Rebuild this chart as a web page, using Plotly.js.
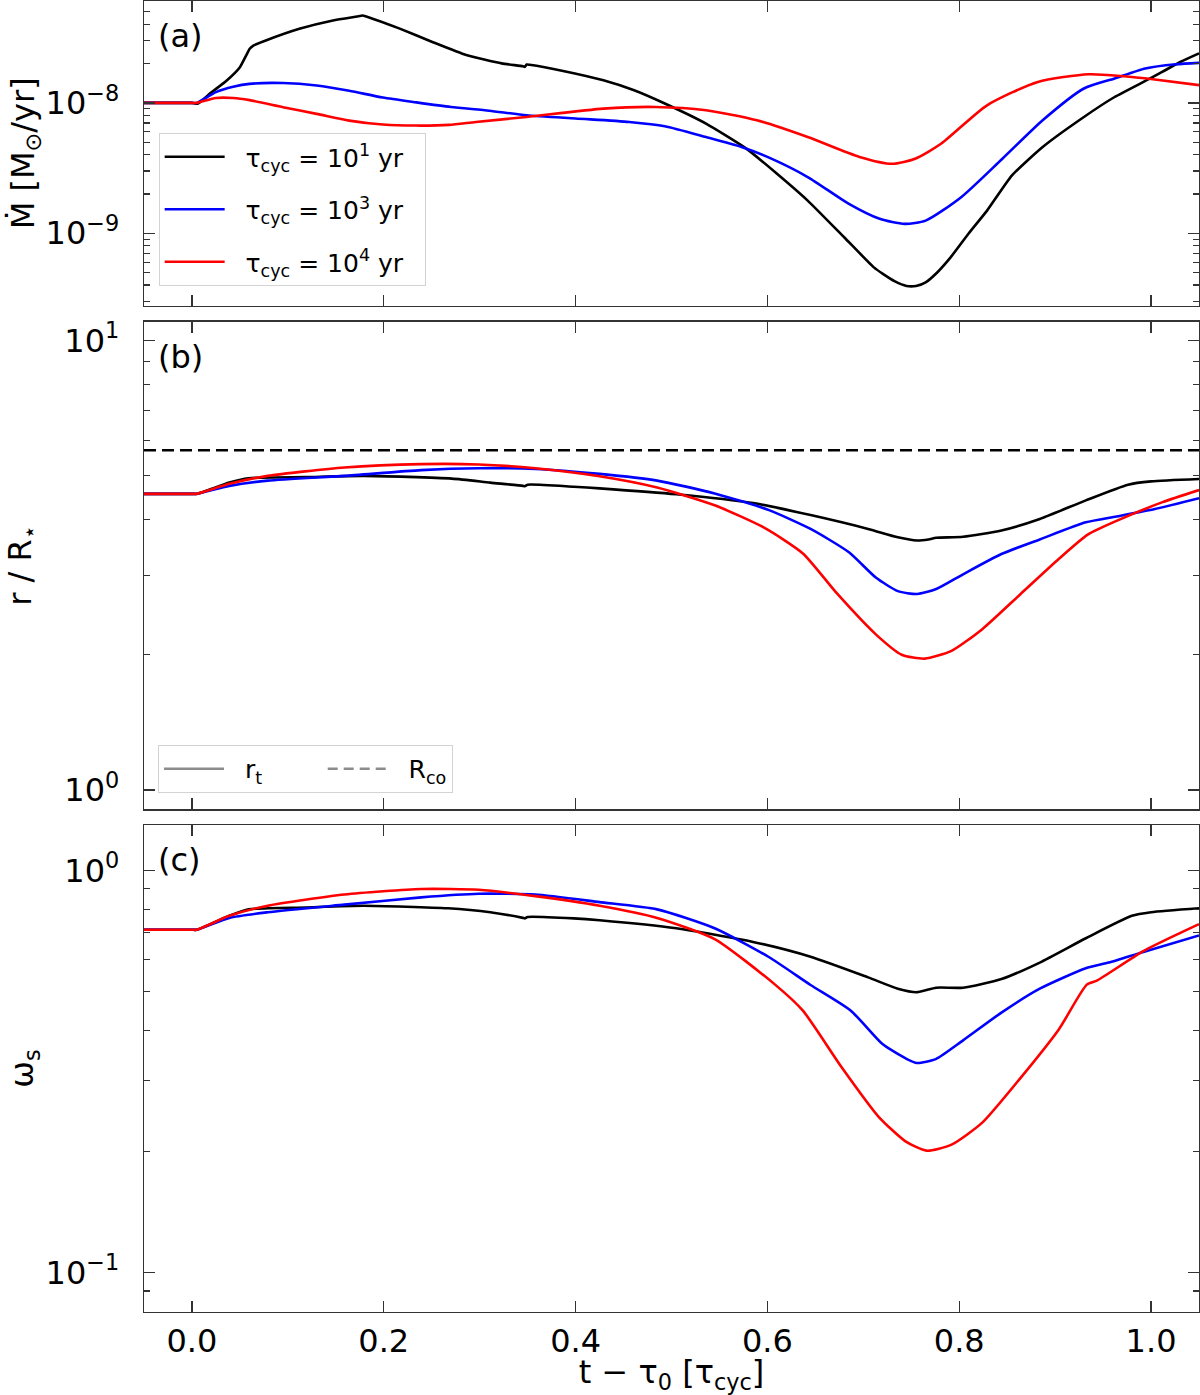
<!DOCTYPE html>
<html>
<head>
<meta charset="utf-8">
<script src="https://cdn.plot.ly/plotly-3.0.1.min.js"></script>
<style>
  html, body { margin: 0; padding: 0; background: #fff; }
  #chart { width: 1200px; height: 1395px; }
</style>
</head>
<body>
<div id="chart"></div>
<script>
// ---- Panel (a): accretion rate [M_sun/yr] ----
const tA_k1 = [-0.05, -0.02, 0.0, 0.006, 0.02, 0.036, 0.05, 0.057, 0.06, 0.064, 0.077, 0.112, 0.147, 0.172, 0.178, 0.184, 0.216, 0.25, 0.286, 0.323, 0.345, 0.347, 0.349, 0.352, 0.387, 0.429, 0.461, 0.493, 0.536, 0.578, 0.61, 0.642, 0.68, 0.711, 0.72, 0.733, 0.745, 0.755, 0.765, 0.777, 0.791, 0.81, 0.829, 0.855, 0.887, 0.93, 0.962, 0.999, 1.031, 1.05];
const mdot_k1 = [1.0e-8, 1.0e-8, 1.0e-8, 0.985e-8, 1.2e-8, 1.48e-8, 1.88e-8, 2.35e-8, 2.59e-8, 2.75e-8, 3.01e-8, 3.70e-8, 4.29e-8, 4.6e-8, 4.68e-8, 4.55e-8, 3.73e-8, 2.95e-8, 2.33e-8, 2.01e-8, 1.91e-8, 1.89e-8, 1.97e-8, 1.96e-8, 1.76e-8, 1.49e-8, 1.25e-8, 0.989e-8, 6.93e-9, 4.46e-9, 2.86e-9, 1.78e-9, 9.31e-10, 5.47e-10, 4.9e-10, 4.27e-10, 3.94e-10, 3.94e-10, 4.2e-10, 5.0e-10, 6.53e-10, 1.0e-9, 1.49e-9, 2.78e-9, 4.59e-9, 7.80e-9, 1.11e-8, 1.54e-8, 2.07e-8, 2.40e-8];

const tA_k3 = [-0.05, -0.02, 0.0, 0.005, 0.025, 0.043, 0.06, 0.095, 0.13, 0.164, 0.199, 0.234, 0.27, 0.31, 0.349, 0.4, 0.456, 0.493, 0.536, 0.573, 0.6, 0.642, 0.685, 0.717, 0.743, 0.765, 0.802, 0.845, 0.887, 0.93, 0.962, 0.994, 1.026, 1.05];
const mdot_k3 = [1.0e-8, 1.0e-8, 1.0e-8, 1.0e-8, 1.21e-8, 1.33e-8, 1.40e-8, 1.42e-8, 1.36e-8, 1.24e-8, 1.10e-8, 1.01e-8, 9.31e-9, 8.71e-9, 8.04e-9, 7.59e-9, 7.14e-9, 6.62e-9, 5.47e-9, 4.59e-9, 3.85e-9, 2.70e-9, 1.68e-9, 1.29e-9, 1.18e-9, 1.25e-9, 1.89e-9, 3.73e-9, 7.36e-9, 1.29e-8, 1.54e-8, 1.84e-8, 1.98e-8, 2.03e-8];

const tA_k4 = [-0.05, -0.02, 0.0, 0.005, 0.025, 0.043, 0.06, 0.095, 0.13, 0.164, 0.199, 0.234, 0.268, 0.296, 0.349, 0.429, 0.483, 0.536, 0.589, 0.642, 0.696, 0.73, 0.754, 0.781, 0.829, 0.882, 0.935, 0.972, 1.004, 1.05];
const mdot_k4 = [1.0e-8, 1.0e-8, 1.0e-8, 1.0e-8, 1.09e-8, 1.09e-8, 1.05e-8, 9.27e-9, 8.24e-9, 7.31e-9, 6.82e-9, 6.70e-9, 6.78e-9, 7.14e-9, 7.80e-9, 9.04e-9, 9.31e-9, 8.79e-9, 7.36e-9, 5.47e-9, 3.85e-9, 3.41e-9, 3.73e-9, 4.86e-9, 9.59e-9, 1.45e-8, 1.66e-8, 1.60e-8, 1.51e-8, 1.37e-8];

// ---- Panel (b): truncation radius r_t / R_star, corotation radius ----
const tB_k1 = [-0.05, -0.02, 0.0, 0.005, 0.039, 0.059, 0.119, 0.179, 0.271, 0.311, 0.345, 0.347, 0.35, 0.398, 0.425, 0.505, 0.585, 0.645, 0.705, 0.736, 0.756, 0.768, 0.776, 0.804, 0.844, 0.884, 0.932, 0.976, 1.0, 1.05];
const r_k1 = [4.56, 4.56, 4.56, 4.56, 4.83, 4.94, 4.97, 5.00, 4.93, 4.83, 4.75, 4.74, 4.78, 4.73, 4.69, 4.55, 4.35, 4.09, 3.81, 3.65, 3.59, 3.61, 3.64, 3.66, 3.78, 4.01, 4.41, 4.78, 4.86, 4.92];

const tB_k3 = [-0.05, -0.02, 0.0, 0.005, 0.039, 0.079, 0.159, 0.239, 0.299, 0.358, 0.425, 0.485, 0.545, 0.601, 0.645, 0.685, 0.713, 0.736, 0.756, 0.776, 0.804, 0.844, 0.884, 0.932, 0.964, 1.004, 1.05];
const r_k3 = [4.56, 4.56, 4.56, 4.56, 4.75, 4.88, 5.00, 5.15, 5.20, 5.18, 5.05, 4.88, 4.57, 4.20, 3.81, 3.38, 2.97, 2.77, 2.73, 2.80, 3.02, 3.35, 3.61, 3.94, 4.06, 4.22, 4.46];

const tB_k4 = [-0.05, -0.02, 0.0, 0.005, 0.039, 0.079, 0.159, 0.239, 0.299, 0.358, 0.425, 0.485, 0.545, 0.597, 0.637, 0.673, 0.713, 0.74, 0.764, 0.792, 0.824, 0.864, 0.904, 0.934, 0.964, 1.012, 1.05];
const r_k4 = [4.56, 4.56, 4.56, 4.56, 4.80, 5.00, 5.22, 5.31, 5.30, 5.20, 4.99, 4.71, 4.30, 3.83, 3.36, 2.73, 2.22, 2.00, 1.96, 2.04, 2.28, 2.73, 3.27, 3.70, 3.97, 4.37, 4.65];

const tCo = [-0.05, 1.05];
const rCo = [5.7, 5.7];

// ---- Panel (c): fastness parameter omega_s ----
const tC_k1 = [-0.05, -0.02, 0.0, 0.005, 0.039, 0.059, 0.119, 0.179, 0.267, 0.311, 0.345, 0.347, 0.35, 0.398, 0.425, 0.505, 0.585, 0.645, 0.705, 0.736, 0.756, 0.776, 0.804, 0.844, 0.884, 0.932, 0.98, 1.0, 1.05];
const w_k1 = [0.712, 0.712, 0.712, 0.712, 0.771, 0.800, 0.809, 0.817, 0.805, 0.787, 0.762, 0.760, 0.766, 0.760, 0.752, 0.718, 0.664, 0.610, 0.542, 0.508, 0.498, 0.511, 0.511, 0.537, 0.590, 0.678, 0.771, 0.787, 0.805];

const tC_k3 = [-0.05, -0.02, 0.0, 0.005, 0.039, 0.079, 0.159, 0.239, 0.299, 0.358, 0.425, 0.485, 0.545, 0.601, 0.645, 0.687, 0.72, 0.745, 0.756, 0.776, 0.804, 0.844, 0.884, 0.932, 0.956, 0.992, 1.05];
const w_k3 = [0.712, 0.712, 0.712, 0.712, 0.762, 0.787, 0.822, 0.857, 0.875, 0.871, 0.834, 0.800, 0.718, 0.610, 0.519, 0.448, 0.370, 0.340, 0.332, 0.340, 0.378, 0.443, 0.508, 0.571, 0.590, 0.627, 0.689];

const tC_k4 = [-0.05, -0.02, 0.0, 0.005, 0.039, 0.079, 0.159, 0.239, 0.299, 0.358, 0.425, 0.485, 0.545, 0.608, 0.637, 0.677, 0.716, 0.744, 0.766, 0.792, 0.824, 0.864, 0.904, 0.933, 0.944, 0.992, 1.05];
const w_k4 = [0.712, 0.712, 0.712, 0.712, 0.771, 0.817, 0.871, 0.899, 0.895, 0.863, 0.817, 0.762, 0.675, 0.520, 0.448, 0.325, 0.244, 0.212, 0.201, 0.208, 0.236, 0.305, 0.403, 0.520, 0.533, 0.630, 0.735];

// ---- Labels and ticks ----
const PAD = '\u00a0\u00a0';
const seriesNames = ['τ<sub>cyc</sub> = 10<sup>1</sup> yr', 'τ<sub>cyc</sub> = 10<sup>3</sup> yr', 'τ<sub>cyc</sub> = 10<sup>4</sup> yr'];
const seriesColors = ['#000000', '#0000ff', '#ff0000'];
const styleNames = ['r<sub>t</sub>', 'R<sub>co</sub>'];
const xTickVals = [0, 0.2, 0.4, 0.6, 0.8, 1.0];
const xTickText = ['0.0', '0.2', '0.4', '0.6', '0.8', '1.0'];
const yA_TickVals = [1e-9, 1e-8];
const yA_TickText = ['10<sup>−9</sup>', '10<sup>−8</sup>'];
const yB_TickVals = [1, 10];
const yB_TickText = ['10<sup>0</sup>', '10<sup>1</sup>'];
const yC_TickVals = [0.1, 1];
const yC_TickText = ['10<sup>−1</sup>', '10<sup>0</sup>'];
const mantissas = [2, 3, 4, 5, 6, 7, 8, 9];

function minorTicks(decades, lo, hi) {
  const out = [];
  decades.forEach(d => mantissas.forEach(m => {
    const v = m * Math.pow(10, d);
    if (v > lo && v < hi) out.push(v);
  }));
  return out;
}

const FONT = 'DejaVu Sans, Liberation Sans, sans-serif';
const AXC = '#333333';

const xRange = [-0.05, 1.05];
const yA_Range = [-9.556, -7.218];
const yB_Range = [-0.043, 1.042];
const yC_Range = [-1.098, 0.113];

function xAxis(anchor, showLabels, extra) {
  return Object.assign({
    anchor: anchor,
    range: xRange,
    tickmode: 'array',
    tickvals: xTickVals,
    ticktext: xTickText,
    showticklabels: showLabels,
    ticks: 'inside',
    ticklen: 11,
    tickwidth: 1.3,
    tickcolor: AXC,
    showline: true,
    linecolor: AXC,
    linewidth: 1.3,
    mirror: 'allticks',
    showgrid: false,
    zeroline: false,
    tickfont: { family: FONT, size: 32, color: '#000' }
  }, extra || {});
}

function yAxis(domain, range, tv, tt, minorVals, title, standoff) {
  return {
    domain: domain,
    type: 'log',
    range: range,
    tickmode: 'array',
    tickvals: tv,
    ticktext: tt,
    ticks: 'inside',
    ticklen: 11,
    tickwidth: 1.3,
    tickcolor: AXC,
    minor: { tickmode: 'array', tickvals: minorVals, ticks: 'inside', ticklen: 6, tickwidth: 1.2, tickcolor: AXC, showgrid: false },
    showline: true,
    linecolor: AXC,
    linewidth: 1.3,
    mirror: 'allticks',
    showgrid: false,
    zeroline: false,
    ticklabelstandoff: 17,
    tickfont: { family: FONT, size: 32, color: '#000' },
    title: { text: title, font: { family: FONT, size: 32, color: '#000' }, standoff: standoff }
  };
}

const LW = 2.6;
const traces = [];

// Panel (a)
[[tA_k1, mdot_k1], [tA_k3, mdot_k3], [tA_k4, mdot_k4]].forEach((s, i) => {
  traces.push({
    x: s[0], y: s[1], xaxis: 'x', yaxis: 'y', type: 'scatter', mode: 'lines',
    name: PAD + seriesNames[i] + '\u00a0\u00a0', legendgroup: 'g' + i, legend: 'legend',
    line: { color: seriesColors[i], width: LW, shape: 'spline', smoothing: i === 0 ? 0.5 : 0.65 },
    hoverinfo: 'skip'
  });
});

// Panel (b)
traces.push({
  x: tCo, y: rCo, xaxis: 'x2', yaxis: 'y2', type: 'scatter', mode: 'lines',
  showlegend: false, line: { color: '#000', width: LW, dash: '12px,6px' }, hoverinfo: 'skip'
});
[[tB_k1, r_k1], [tB_k3, r_k3], [tB_k4, r_k4]].forEach((s, i) => {
  traces.push({
    x: s[0], y: s[1], xaxis: 'x2', yaxis: 'y2', type: 'scatter', mode: 'lines',
    showlegend: false,
    line: { color: seriesColors[i], width: LW, shape: 'spline', smoothing: 0.6 },
    hoverinfo: 'skip'
  });
});
// line-style key for panel (b)
traces.push({
  x: [null], y: [null], xaxis: 'x2', yaxis: 'y2', type: 'scatter', mode: 'lines',
  name: PAD + styleNames[0] + '\u00a0\u00a0\u00a0\u00a0\u00a0\u00a0\u00a0', legend: 'legend2',
  line: { color: '#8c8c8c', width: LW }
});
traces.push({
  x: [null], y: [null], xaxis: 'x2', yaxis: 'y2', type: 'scatter', mode: 'lines',
  name: PAD + styleNames[1], legend: 'legend2',
  line: { color: '#8c8c8c', width: LW, dash: '10px,6px' }
});

// Panel (c)
[[tC_k1, w_k1], [tC_k3, w_k3], [tC_k4, w_k4]].forEach((s, i) => {
  traces.push({
    x: s[0], y: s[1], xaxis: 'x3', yaxis: 'y3', type: 'scatter', mode: 'lines',
    showlegend: false,
    line: { color: seriesColors[i], width: LW, shape: 'spline', smoothing: 0.6 },
    hoverinfo: 'skip'
  });
});

const panelLabel = (txt, xref, yref) => ({
  text: txt, xref: xref + ' domain', yref: yref + ' domain', x: 0.011, y: 1, yshift: -35,
  xanchor: 'left', yanchor: 'middle', showarrow: false,
  font: { family: FONT, size: 32, color: '#000' }
});

const layout = {
  width: 1200,
  height: 1395,
  margin: { l: 144, r: 1, t: 1, b: 83 },
  paper_bgcolor: '#ffffff',
  plot_bgcolor: '#ffffff',
  font: { family: FONT, color: '#000' },
  xaxis: xAxis('y', false),
  xaxis2: xAxis('y2', false),
  xaxis3: xAxis('y3', true, {
    title: { text: 't − τ<sub>0</sub> [τ<sub>cyc</sub>]', font: { family: FONT, size: 32, color: '#000' }, standoff: 1 }
  }),
  yaxis: yAxis([0.7676, 1.0], yA_Range, yA_TickVals, yA_TickText,
    minorTicks([-10, -9, -8], 2.9e-10, 5.9e-8), 'Ṁ [M<sub>⊙</sub>/yr]', 0),
  yaxis2: yAxis([0.3834, 0.7554], yB_Range, yB_TickVals, yB_TickText,
    minorTicks([0], 0.9, 11), 'r / R<sub>⋆</sub>', 23),
  yaxis3: yAxis([0.0, 0.3715], yC_Range, yC_TickVals, yC_TickText,
    minorTicks([-2, -1], 0.081, 1.25), 'ω<sub>s</sub>', 2),
  legend: {
    x: 0.0139, y: 0.8993, xanchor: 'left', yanchor: 'top',
    bgcolor: 'rgba(255,255,255,0.85)', bordercolor: '#d3d3d3', borderwidth: 1,
    font: { family: FONT, size: 25, color: '#000' },
    tracegroupgap: 17, itemwidth: 60, traceorder: 'grouped'
  },
  legend2: {
    orientation: 'h', x: 0.0133, y: 0.4325, xanchor: 'left', yanchor: 'top',
    bgcolor: 'rgba(255,255,255,0.85)', bordercolor: '#d3d3d3', borderwidth: 1,
    font: { family: FONT, size: 25, color: '#000' },
    itemwidth: 60
  },
  annotations: [
    panelLabel('(a)', 'x', 'y'),
    panelLabel('(b)', 'x2', 'y2'),
    panelLabel('(c)', 'x3', 'y3')
  ],
  showlegend: true
};

Plotly.newPlot('chart', traces, layout, { displayModeBar: false, staticPlot: true });
</script>
</body>
</html>
